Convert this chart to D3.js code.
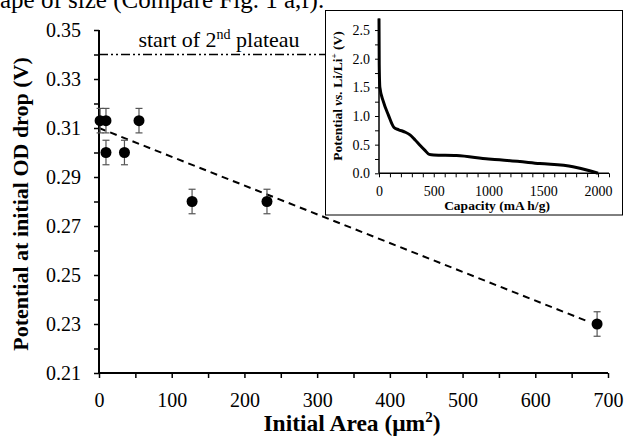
<!DOCTYPE html>
<html>
<head>
<meta charset="utf-8">
<script src="https://cdn.jsdelivr.net/npm/d3@7"></script>
<style>
  body { margin: 0; background: #fff; }
  svg { display: block; }
  text { font-family: 'Liberation Serif', 'Times New Roman', serif; }
  .domain { stroke: #000; stroke-width: 2; }
  .tick line { stroke: #000; stroke-width: 1.5; }
  .inset .domain { stroke-width: 1.5; }
  .inset .tick line { stroke-width: 1; }
</style>
</head>
<body>
<div id="chart"></div>
<script>
// main plot: potential at initial OD drop vs initial area
const areas = [1.5, 9.6, 9.6, 35, 55, 128, 231, 685]
const potentials = [0.313, 0.313, 0.300, 0.300, 0.313, 0.280, 0.280, 0.230]
const errs = [0.005, 0.005, 0.005, 0.005, 0.005, 0.005, 0.005, 0.005]
// dashed trend line
const trendArea = [0, 672]
const trendPot = [0.310, 0.2311]
const plateau = 0.34

// inset: discharge curve
const capacity = [0, 2, 8, 40, 85, 137, 180, 237, 283, 330, 374, 420, 459, 500, 708, 1000, 1100, 1468, 1771, 1923, 2000]
const voltage = [2.7, 1.9, 1.5, 1.25, 1.02, 0.80, 0.76, 0.72, 0.67, 0.58, 0.49, 0.40, 0.33, 0.32, 0.31, 0.25, 0.235, 0.17, 0.115, 0.045, 0.0]

const xTicks = d3.range(0, 701, 50)
const yTicks = d3.range(21, 36).map(d => d / 100)
const insetXTicks = d3.range(0, 2101, 100)
const insetYTicks = d3.range(0, 11).map(d => d * 0.25)

const width = 624, height = 437
const SERIF = "'Liberation Serif', 'Times New Roman', serif"

let svg = d3.select('#chart').append('svg')
  .attr('width', width)
  .attr('height', height)

// caption fragment cut at the top
svg.append('text')
  .attr('x', 0).attr('y', 8)
  .attr('font-size', 25)
  .text('ape of size (Compare Fig. 1 a,f).')

let x = d3.scaleLinear().domain([0, 700]).range([99, 608])
let y = d3.scaleLinear().domain([0.21, 0.35]).range([373, 30])

function serif(g, size) {
  g.attr('font-family', SERIF).attr('font-size', size)
  g.selectAll('text').attr('font-family', SERIF).attr('font-size', size).attr('fill', '#000')
}

svg.append('g')
  .attr('transform', 'translate(0,373)')
  .call(d3.axisBottom(x).tickValues(xTicks).tickSize(5).tickPadding(15)
    .tickFormat(d => d % 100 === 0 ? d : ''))
  .call(g => serif(g, 20))
  .call(g => g.select('.domain').attr('d', 'M99,0H608'))

svg.append('g')
  .attr('transform', 'translate(99,0)')
  .call(d3.axisLeft(y).tickValues(yTicks).tickSize(5).tickPadding(13)
    .tickFormat((d, i) => i % 2 === 0 ? d.toFixed(2) : ''))
  .call(g => serif(g, 20))
  .call(g => g.select('.domain').attr('d', 'M0,373V30'))

// axis titles
svg.append('text')
  .attr('transform', 'translate(28,204) rotate(-90)')
  .attr('text-anchor', 'middle')
  .attr('font-size', 22).attr('font-weight', 'bold')
  .text('Potential at initial OD drop (V)')

let xt = svg.append('text')
  .attr('x', 352).attr('y', 431)
  .attr('text-anchor', 'middle')
  .attr('font-size', 23.5).attr('font-weight', 'bold')
xt.append('tspan').text('Initial Area (μm')
xt.append('tspan').attr('font-size', 15).attr('dy', -9).text('2')
xt.append('tspan').attr('dy', 9).text(')')

// plateau reference line
svg.append('line')
  .attr('x1', x(0)).attr('x2', 325)
  .attr('y1', y(plateau)).attr('y2', y(plateau))
  .attr('stroke', '#000').attr('stroke-width', 1.5)
  .attr('stroke-dasharray', '9,3,2,3,2,3')

let pt = svg.append('text')
  .attr('x', 219).attr('y', 47)
  .attr('text-anchor', 'middle')
  .attr('font-size', 22)
pt.append('tspan').text('start of 2')
pt.append('tspan').attr('font-size', 14).attr('dy', -8).text('nd')
pt.append('tspan').attr('dy', 8).text(' plateau')

// trend line
svg.append('line')
  .attr('x1', x(trendArea[0])).attr('y1', y(trendPot[0]))
  .attr('x2', x(trendArea[1])).attr('y2', y(trendPot[1]))
  .attr('stroke', '#000').attr('stroke-width', 2)
  .attr('stroke-dasharray', '7,5')

// error bars and points
let pts = areas.map((a, i) => ({ a: a, p: potentials[i], e: errs[i] }))

let eb = svg.append('g').attr('stroke', '#555').attr('stroke-width', 1.2)
pts.forEach(d => {
  eb.append('line').attr('x1', x(d.a)).attr('x2', x(d.a))
    .attr('y1', y(d.p - d.e)).attr('y2', y(d.p + d.e))
  ;[d.p - d.e, d.p + d.e].forEach(v => {
    eb.append('line').attr('x1', x(d.a) - 3.5).attr('x2', x(d.a) + 3.5)
      .attr('y1', y(v)).attr('y2', y(v))
  })
})

svg.selectAll('.pt')
  .data(pts)
  .enter()
  .append('circle')
  .attr('class', 'pt')
  .attr('cx', d => x(d.a))
  .attr('cy', d => y(d.p))
  .attr('r', 5.5)
  .attr('fill', '#000')

// ---- inset ----
let inset = svg.append('g').attr('class', 'inset')

inset.append('rect')
  .attr('x', 325.5).attr('y', 10.5)
  .attr('width', 297).attr('height', 204.5)
  .attr('fill', '#fff').attr('stroke', '#000').attr('stroke-width', 1)

let ix = d3.scaleLinear().domain([0, 2100]).range([379, 609])
let iy = d3.scaleLinear().domain([0, 2.7]).range([173.3, 18.6])

inset.append('g')
  .attr('transform', 'translate(0,173.3)')
  .call(d3.axisBottom(ix).tickValues(insetXTicks).tickSize(4).tickPadding(9)
    .tickFormat(d => d % 500 === 0 ? d : ''))
  .call(g => serif(g, 14))
  .call(g => g.select('.domain').attr('d', 'M379,0H609'))

inset.append('g')
  .attr('transform', 'translate(379,0)')
  .call(d3.axisLeft(iy).tickValues(insetYTicks).tickSize(4).tickPadding(5)
    .tickFormat((d, i) => i % 2 === 0 ? d.toFixed(1) : ''))
  .call(g => serif(g, 14))
  .call(g => g.select('.domain').attr('d', 'M0,173.3V18.6'))

let line = d3.line()
  .x((d, i) => ix(capacity[i]))
  .y(d => iy(d))
  .curve(d3.curveMonotoneX)

inset.append('path')
  .attr('d', line(voltage))
  .attr('fill', 'none')
  .attr('stroke', '#000')
  .attr('stroke-width', 3)

inset.append('text')
  .attr('x', 497).attr('y', 210)
  .attr('text-anchor', 'middle')
  .attr('font-size', 13.5).attr('font-weight', 'bold')
  .text('Capacity (mA h/g)')

let iyt = inset.append('text')
  .attr('transform', 'translate(342,96) rotate(-90)')
  .attr('text-anchor', 'middle')
  .attr('font-size', 13.5).attr('font-weight', 'bold')
iyt.append('tspan').text('Potential ')
iyt.append('tspan').attr('font-style', 'italic').text('vs.')
iyt.append('tspan').text(' Li/Li')
iyt.append('tspan').attr('font-size', 9).attr('dy', -5).text('+')
iyt.append('tspan').attr('dy', 5).text(' (V)')
</script>
</body>
</html>
